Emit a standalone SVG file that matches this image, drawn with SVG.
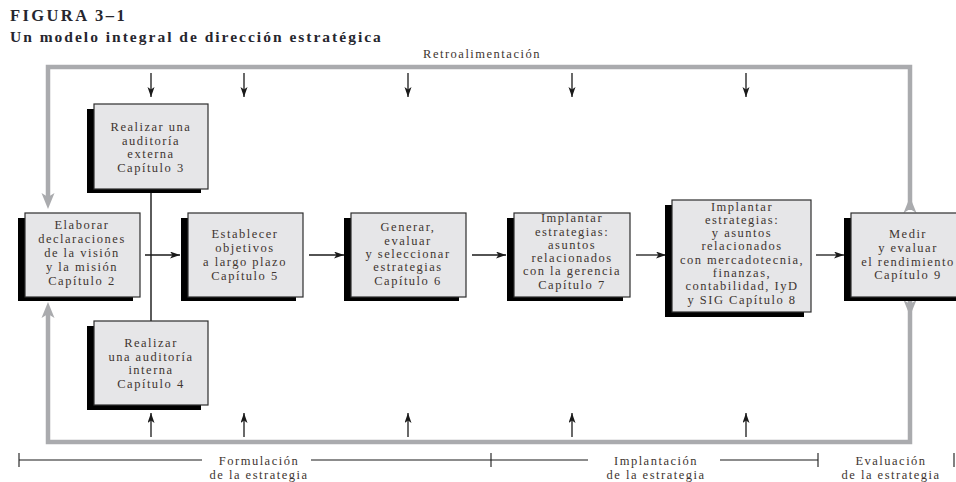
<svg xmlns="http://www.w3.org/2000/svg" width="956" height="482" viewBox="0 0 956 482">
  <defs>
    <style>
      .title { font-family: "Liberation Serif", "Times New Roman", serif; font-weight: bold; fill: #26262e; }
      .lbl { font-family: "Liberation Serif", "Times New Roman", serif; font-size: 12.5px; letter-spacing: 1.5px; fill: #3e3530; text-anchor: middle; }
      .box { fill: #e6e6e8; stroke: #2e2e2e; stroke-width: 1.2; }
      .shadow { fill: #000; }
      .fb { fill: none; stroke: #aaabae; stroke-width: 4.5; }
      .fbhead { fill: #aaabae; }
      .flow { fill: none; stroke: #1a1a1a; stroke-width: 1.3; }
      .link { fill: none; stroke: #333; stroke-width: 1.6; }
      .scale { fill: none; stroke: #1a1a1a; stroke-width: 1.1; }
    </style>
    <marker id="arrow" markerUnits="userSpaceOnUse" markerWidth="11" markerHeight="8" refX="10" refY="3.5" orient="auto">
      <path d="M0,0 L10,3.5 L0,7 L2.5,3.5 z" fill="#1a1a1a"/>
    </marker>
  </defs>

  <rect width="956" height="482" fill="#fff"/>

  <!-- heading -->
  <text class="title" x="10" y="21" font-size="16.5" letter-spacing="2.4">FIGURA 3–1</text>
  <text class="title" x="10" y="42" font-size="15.5" letter-spacing="2">Un modelo integral de dirección estratégica</text>
  <text class="lbl" x="482" y="58" font-size="12" letter-spacing="2.2">Retroalimentación</text>

  <!-- feedback loop -->
  <g id="feedback">
    <polyline class="fb" points="910,210 910,67 48,67 48,198"/>
    <polyline class="fb" points="910,300 910,442 48,442 48,312"/>
    <polygon class="fbhead" points="48,209 41.5,193 48,197 54.5,193"/>
    <polygon class="fbhead" points="48,302 41.5,318 48,314 54.5,318"/>
    <polygon class="fbhead" points="910,197 903.5,213 910,209 916.5,213"/>
    <polygon class="fbhead" points="910,316 903.5,300 910,304 916.5,300"/>
  </g>

  <!-- connectors -->
  <g id="connectors">
    <line class="link" x1="151" y1="189" x2="151" y2="321"/>
    <line class="flow" x1="145" y1="255" x2="180" y2="255" marker-end="url(#arrow)"/>
    <line class="flow" x1="309" y1="255" x2="344" y2="255" marker-end="url(#arrow)"/>
    <line class="flow" x1="472" y1="255" x2="506" y2="255" marker-end="url(#arrow)"/>
    <line class="flow" x1="636" y1="255" x2="666" y2="255" marker-end="url(#arrow)"/>
    <line class="flow" x1="816" y1="255" x2="844" y2="255" marker-end="url(#arrow)"/>
    <!-- inputs from above -->
    <line class="flow" x1="151" y1="73" x2="151" y2="97" marker-end="url(#arrow)"/>
    <line class="flow" x1="244" y1="73" x2="244" y2="97" marker-end="url(#arrow)"/>
    <line class="flow" x1="408" y1="73" x2="408" y2="97" marker-end="url(#arrow)"/>
    <line class="flow" x1="572" y1="73" x2="572" y2="97" marker-end="url(#arrow)"/>
    <line class="flow" x1="746" y1="73" x2="746" y2="97" marker-end="url(#arrow)"/>
    <!-- inputs from below -->
    <line class="flow" x1="151" y1="437" x2="151" y2="413" marker-end="url(#arrow)"/>
    <line class="flow" x1="244" y1="437" x2="244" y2="413" marker-end="url(#arrow)"/>
    <line class="flow" x1="408" y1="437" x2="408" y2="413" marker-end="url(#arrow)"/>
    <line class="flow" x1="572" y1="437" x2="572" y2="413" marker-end="url(#arrow)"/>
    <line class="flow" x1="746" y1="437" x2="746" y2="413" marker-end="url(#arrow)"/>
  </g>

  <!-- process steps -->
  <g id="auditoria-externa">
    <rect class="shadow" x="87" y="109" width="114" height="84"/>
    <rect class="box" x="94" y="104" width="114" height="85"/>
    <text class="lbl" x="151"><tspan x="151" y="131">Realizar una</tspan><tspan x="151" y="145">auditoría</tspan><tspan x="151" y="158">externa</tspan><tspan x="151" y="172">Capítulo 3</tspan></text>
  </g>

  <g id="vision-mision">
    <rect class="shadow" x="18" y="218" width="115" height="83"/>
    <rect class="box" x="25" y="213" width="115" height="84"/>
    <text class="lbl" x="82"><tspan x="82" y="229">Elaborar</tspan><tspan x="82" y="243">declaraciones</tspan><tspan x="82" y="257">de la visión</tspan><tspan x="82" y="271">y la misión</tspan><tspan x="82" y="285">Capítulo 2</tspan></text>
  </g>

  <g id="auditoria-interna">
    <rect class="shadow" x="87" y="326" width="114" height="84"/>
    <rect class="box" x="94" y="321" width="114" height="84"/>
    <text class="lbl" x="151"><tspan x="151" y="347">Realizar</tspan><tspan x="151" y="361">una auditoría</tspan><tspan x="151" y="374">interna</tspan><tspan x="151" y="388">Capítulo 4</tspan></text>
  </g>

  <g id="objetivos">
    <rect class="shadow" x="181" y="218" width="115" height="83"/>
    <rect class="box" x="188" y="213" width="115" height="84"/>
    <text class="lbl" x="245"><tspan x="245" y="238">Establecer</tspan><tspan x="245" y="252">objetivos</tspan><tspan x="245" y="266">a largo plazo</tspan><tspan x="245" y="280">Capítulo 5</tspan></text>
  </g>

  <g id="estrategias">
    <rect class="shadow" x="344" y="218" width="115" height="83"/>
    <rect class="box" x="351" y="213" width="115" height="84"/>
    <text class="lbl" x="408"><tspan x="408" y="231">Generar,</tspan><tspan x="408" y="245">evaluar</tspan><tspan x="408" y="258">y seleccionar</tspan><tspan x="408" y="271">estrategias</tspan><tspan x="408" y="285">Capítulo 6</tspan></text>
  </g>

  <g id="implantar-gerencia">
    <rect class="shadow" x="507" y="218" width="116" height="83"/>
    <rect class="box" x="514" y="213" width="116" height="84"/>
    <text class="lbl" x="572"><tspan x="572" y="222">Implantar</tspan><tspan x="572" y="236">estrategias:</tspan><tspan x="572" y="249">asuntos</tspan><tspan x="572" y="262">relacionados</tspan><tspan x="572" y="275">con la gerencia</tspan><tspan x="572" y="289">Capítulo 7</tspan></text>
  </g>

  <g id="implantar-funciones">
    <rect class="shadow" x="665" y="205" width="139" height="112"/>
    <rect class="box" x="672" y="200" width="139" height="112"/>
    <text class="lbl" x="742"><tspan x="742" y="211">Implantar</tspan><tspan x="742" y="224">estrategias:</tspan><tspan x="742" y="237">y asuntos</tspan><tspan x="742" y="250">relacionados</tspan><tspan x="742" y="264">con mercadotecnia,</tspan><tspan x="742" y="277">finanzas,</tspan><tspan x="742" y="290">contabilidad, IyD</tspan><tspan x="742" y="304">y SIG  Capítulo 8</tspan></text>
  </g>

  <g id="rendimiento">
    <rect class="shadow" x="844" y="218" width="116" height="83"/>
    <rect class="box" x="851" y="213" width="116" height="84"/>
    <text class="lbl" x="908"><tspan x="908" y="238">Medir</tspan><tspan x="908" y="252">y evaluar</tspan><tspan x="908" y="266">el rendimiento</tspan><tspan x="908" y="279">Capítulo 9</tspan></text>
  </g>

  <!-- stage scale -->
  <g id="etapas">
    <path class="scale" d="M19,460 H202 M311,460 H491 M491,460 H588 M720,460 H818 M19,453 V467 M491,453 V467 M818,453 V467 M954,453 V467"/>
    <text class="lbl" x="259"><tspan x="259" y="465">Formulación</tspan><tspan x="259" y="479">de la estrategia</tspan></text>
    <text class="lbl" x="656"><tspan x="656" y="465">Implantación</tspan><tspan x="656" y="479">de la estrategia</tspan></text>
    <text class="lbl" x="891"><tspan x="891" y="465">Evaluación</tspan><tspan x="891" y="479">de la estrategia</tspan></text>
  </g>
</svg>
